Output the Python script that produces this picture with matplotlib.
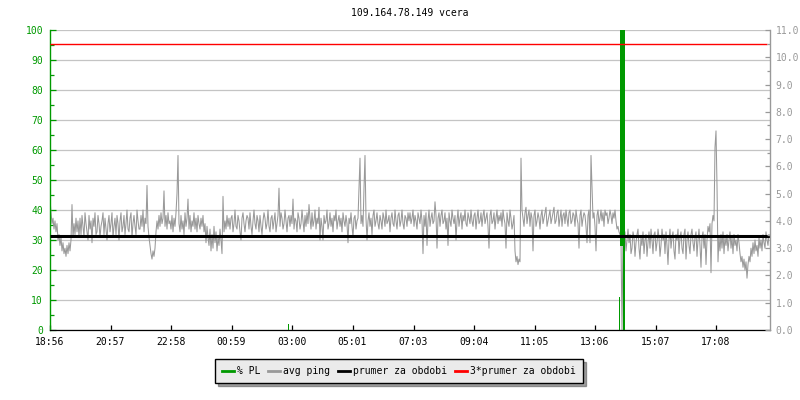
import matplotlib
matplotlib.use("Agg")
import matplotlib.pyplot as plt
from matplotlib.lines import Line2D
from matplotlib.ticker import MultipleLocator, FormatStrFormatter
import numpy as np

# ---------------- data ----------------
title = "109.164.78.149 vcera"
start_label = "18:56"
time_labels = ["18:56", "20:57", "22:58", "00:59", "03:00", "05:01",
               "07:03", "09:04", "11:05", "13:06", "15:07", "17:08"]
sample_step_min = 2          # one ping sample every 2 minutes
period_min = 1440

# avg ping [ms] (right axis), 30 samples per list
p01 = [4.8, 4.3, 3.9, 4.1, 3.7, 4.0, 3.6, 3.9, 3.3, 3.5,
       3.1, 3.4, 2.9, 3.2, 2.8, 3.0, 2.7, 3.1, 2.8, 3.2,
       2.9, 3.3, 4.6, 3.4, 3.9, 3.5, 4.1, 3.6, 4.0, 3.4]
p02 = [4.1, 3.5, 4.2, 3.8, 3.4, 4.3, 3.9, 3.6, 3.3, 4.2,
       3.7, 4.0, 3.2, 4.1, 3.8, 4.3, 3.5, 3.6, 4.2, 3.9,
       3.4, 3.8, 4.0, 4.3, 3.5, 4.1, 3.7, 3.3, 3.9, 4.2]
p03 = [3.6, 3.9, 4.3, 3.4, 3.8, 4.1, 3.5, 4.2, 3.9, 3.3,
       4.0, 4.3, 3.6, 3.8, 4.2, 3.5, 3.9, 4.4, 3.7, 3.6,
       4.1, 4.3, 3.4, 3.9, 4.2, 3.8, 3.5, 4.4, 4.0, 3.7]
p04 = [3.7, 4.2, 3.8, 4.4, 3.6, 4.1, 3.9, 5.3, 3.8, 3.4,
       3.1, 2.8, 2.6, 2.9, 2.7, 3.0, 3.6, 4.0, 3.7, 4.2,
       3.8, 4.3, 3.9, 4.1, 5.1, 3.8, 4.2, 3.7, 4.3, 3.9]
p05 = [4.0, 3.7, 4.2, 3.6, 4.1, 3.8, 4.3, 5.0, 6.4, 3.9,
       3.6, 4.2, 3.7, 4.0, 3.5, 4.3, 3.8, 4.1, 4.8, 3.7,
       4.2, 3.6, 4.0, 3.8, 4.3, 3.7, 4.1, 3.6, 4.2, 3.9]
p06 = [3.7, 4.1, 3.8, 4.2, 3.6, 3.9, 3.2, 3.8, 3.4, 3.1,
       3.7, 2.9, 3.5, 3.0, 3.8, 3.2, 3.6, 2.9, 3.4, 3.1,
       3.7, 3.3, 2.8, 4.9, 3.6, 4.0, 3.7, 4.2, 3.8, 4.1]
p07 = [3.7, 4.1, 4.2, 3.6, 3.9, 4.4, 3.8, 3.7, 4.2, 4.0,
       3.6, 3.3, 4.1, 4.3, 3.9, 3.6, 4.0, 4.2, 4.1, 3.7,
       4.3, 3.8, 3.5, 4.0, 4.4, 3.9, 3.7, 4.2, 4.0, 3.6]
p08 = [4.2, 3.8, 3.5, 4.0, 4.3, 4.1, 3.7, 3.9, 4.4, 3.8,
       3.6, 4.1, 4.2, 3.7, 4.0, 4.3, 3.6, 3.9, 4.2, 5.2,
       3.8, 4.3, 4.1, 3.7, 3.9, 4.4, 4.0, 3.6, 4.1, 4.2]
p09 = [3.8, 4.2, 3.9, 4.8, 3.7, 4.1, 4.0, 3.6, 4.3, 4.1,
       3.7, 3.9, 4.4, 4.0, 3.6, 4.2, 3.8, 4.3, 3.9, 4.6,
       4.1, 3.7, 4.3, 3.8, 4.0, 4.4, 3.7, 4.1, 3.9, 4.5]
p10 = [3.3, 4.1, 3.8, 3.3, 4.2, 3.9, 4.0, 4.4, 3.7, 3.9,
       4.3, 3.8, 4.1, 3.6, 4.2, 4.0, 4.4, 3.7, 4.0, 4.2,
       3.8, 4.1, 3.6, 4.3, 4.0, 3.8, 4.2, 3.9, 3.2, 4.1]
p11 = [3.9, 4.3, 3.8, 3.4, 4.1, 4.2, 3.7, 4.0, 4.1, 5.2,
       6.3, 3.9, 4.2, 3.8, 5.2, 6.4, 4.1, 3.3, 4.0, 4.3,
       3.8, 4.1, 3.5, 4.2, 4.4, 3.8, 4.0, 4.3, 3.9, 3.7]
p12 = [4.2, 4.0, 3.7, 4.3, 4.1, 3.8, 4.4, 3.9, 4.0, 4.2,
       3.6, 4.1, 4.3, 3.9, 3.8, 4.4, 4.0, 3.7, 4.2, 4.3,
       3.8, 4.0, 4.4, 3.9, 3.7, 4.2, 4.1, 3.8, 4.3, 4.0]
p13 = [4.3, 3.9, 4.1, 4.4, 3.8, 4.2, 4.0, 3.7, 4.3, 4.1,
       3.9, 4.4, 4.0, 2.8, 4.2, 3.8, 4.3, 3.1, 4.0, 4.4,
       3.8, 4.1, 4.3, 3.9, 4.0, 4.7, 4.2, 3.0, 4.1, 4.3]
p14 = [3.8, 4.2, 4.4, 3.9, 4.0, 4.3, 3.7, 4.1, 3.1, 4.3,
       4.0, 3.8, 4.4, 4.1, 3.9, 4.2, 3.3, 4.0, 4.4, 3.8,
       4.1, 4.3, 3.7, 4.2, 4.0, 4.4, 3.9, 3.8, 4.3, 4.1]
p15 = [3.9, 4.4, 4.0, 3.8, 4.2, 4.3, 3.7, 4.1, 4.4, 3.9,
       4.0, 4.3, 3.8, 4.2, 4.4, 3.9, 4.1, 4.3, 3.8, 3.0,
       4.2, 4.4, 3.9, 4.0, 4.3, 3.7, 4.1, 4.4, 3.9, 4.2]
p16 = [4.0, 4.3, 3.8, 4.4, 4.1, 3.9, 3.0, 4.3, 4.0, 3.8,
       4.4, 4.1, 3.7, 3.9, 4.2, 2.9, 2.5, 2.7, 2.4, 2.6,
       2.5, 6.3, 4.4, 4.1, 3.8, 4.3, 4.5, 3.9, 4.2, 4.4]
p17 = [3.8, 4.3, 4.1, 2.9, 4.2, 4.4, 3.8, 4.0, 4.3, 4.1,
       3.7, 4.2, 4.4, 3.9, 4.1, 4.3, 4.5, 3.8, 4.0, 4.2,
       4.4, 3.9, 4.1, 4.3, 4.5, 3.9, 4.0, 4.3, 4.4, 3.8]
p18 = [4.1, 4.4, 3.8, 4.2, 4.3, 3.9, 4.4, 4.1, 3.8, 4.3,
       4.4, 3.9, 4.0, 4.3, 4.2, 3.8, 4.4, 4.1, 3.9, 3.0,
       4.2, 4.4, 3.8, 4.1, 4.3, 4.2, 3.8, 3.2, 4.2, 4.4]
p19 = [3.2, 6.4, 5.2, 4.1, 4.3, 3.8, 2.9, 4.2, 4.4, 3.9,
       4.1, 4.4, 4.0, 4.3, 3.8, 4.4, 4.2, 4.3, 3.9, 4.1,
       4.4, 4.2, 3.9, 4.3, 4.1, 4.4, 4.0, 3.7, 3.8, 3.6]
p20 = [3.5, 3.3, 0.0, 3.4, 3.1, 3.6, 2.9, 3.3, 3.7, 3.2,
       3.5, 2.8, 3.0, 3.6, 3.4, 2.7, 3.2, 3.5, 3.7, 3.0,
       2.6, 3.4, 3.1, 3.6, 2.8, 3.3, 3.5, 2.7, 3.2, 3.6]
p21 = [3.0, 3.7, 3.3, 2.8, 3.5, 3.6, 2.9, 3.2, 3.7, 3.4,
       2.7, 3.1, 3.7, 3.3, 3.5, 2.8, 3.6, 3.1, 2.4, 3.3,
       3.7, 3.0, 3.4, 3.6, 2.9, 2.6, 3.5, 3.3, 3.7, 2.8]
p22 = [3.4, 3.6, 3.0, 2.8, 3.5, 3.7, 2.6, 3.3, 3.6, 3.1,
       2.8, 3.5, 3.7, 3.2, 2.9, 3.4, 3.6, 2.7, 3.3, 3.7,
       3.1, 2.3, 3.4, 3.6, 3.0, 3.5, 2.4, 3.3, 3.8, 3.6]
p23 = [3.9, 2.1, 3.9, 4.2, 4.0, 6.7, 7.3, 5.3, 2.5, 3.4,
       2.9, 3.5, 3.0, 3.6, 2.8, 3.4, 3.1, 3.5, 2.9, 3.3,
       3.6, 3.0, 3.4, 2.8, 3.5, 3.1, 3.3, 2.9, 3.5, 3.2]
p24 = [2.8, 2.5, 2.7, 2.3, 2.6, 2.2, 2.5, 1.9, 2.4, 2.7,
       2.5, 3.0, 2.7, 3.2, 2.8, 3.3, 2.9, 3.1, 2.7, 3.4,
       3.0, 3.3, 2.9, 3.5, 3.2, 3.0, 3.6, 3.3, 3.1, 3.5]

# packet loss [%] (left axis): minute, width (min), base %, top %
pl_minute = [0.8, 477, 532, 1026, 1138.6, 1142.5, 1147.8, 1152, 1334]
pl_width = [1.6, 1.6, 1.6, 1.6, 1.6, 5.0, 5.6, 1.6, 1.6]
pl_base = [0, 0, 0, 0, 0, 28, 0, 0, 0]
pl_top = [1.5, 2, 2, 2, 11, 100, 100, 3, 2]

mean_ping = 3.46        # prumer za obdobi [ms]
mean3_ping = 10.49      # 3*prumer za obdobi [ms]

# ---------------- style ----------------
GREEN = "#009900"
GRAY = "#999999"
GRID = "#c4c4c4"
plt.rcParams["font.family"] = ["DejaVu Sans Mono", "DejaVu Sans"]
FS = 7

ping = (p01 + p02 + p03 + p04 + p05 + p06 + p07 + p08 + p09 + p10 + p11 + p12 +
        p13 + p14 + p15 + p16 + p17 + p18 + p19 + p20 + p21 + p22 + p23 + p24)
x_ping = np.arange(len(ping)) * sample_step_min


def to_min(lbl):
    h, m = map(int, lbl.split(":"))
    sh, sm = map(int, start_label.split(":"))
    return ((h * 60 + m) - (sh * 60 + sm)) % period_min


tick_pos = [to_min(t) for t in time_labels]

fig = plt.figure(figsize=(8, 4), dpi=100)
ax = fig.add_axes([50 / 800, 70 / 400, 720 / 800, 300 / 400])
ax2 = ax.twinx()

ax.set_xlim(0, period_min)
ax.set_ylim(0, 100)
ax2.set_ylim(0, 11)

# grid (left scale)
ax.set_axisbelow(True)
ax.yaxis.grid(True, which="major", color=GRID, lw=0.9)

# ping line (right scale) drawn in the main axes
ax.plot(x_ping, ping, color=GRAY, lw=0.75, transform=ax2.transData, zorder=2)

# packet loss bars
heights = [t - b for t, b in zip(pl_top, pl_base)]
ax.bar(pl_minute, heights, width=pl_width, bottom=pl_base, color=GREEN,
       linewidth=0, zorder=3)

# mean lines
ax.plot([0, period_min], [mean_ping, mean_ping], color="black", lw=2.2,
        transform=ax2.transData, zorder=4, solid_capstyle="butt")
ax.plot([0, period_min - 6], [mean3_ping, mean3_ping], color="red", lw=1.0,
        transform=ax2.transData, zorder=5, solid_capstyle="butt")

# spines
for s in ["top", "right"]:
    ax.spines[s].set_visible(False)
ax.spines["left"].set_color(GREEN)
ax.spines["left"].set_linewidth(1.0)
ax.spines["bottom"].set_color("black")
ax.spines["bottom"].set_linewidth(0.9)
for s in ["top", "left", "bottom"]:
    ax2.spines[s].set_visible(False)
ax2.spines["right"].set_color(GRAY)
ax2.spines["right"].set_linewidth(1.0)

# left ticks
ax.yaxis.set_major_locator(MultipleLocator(10))
ax.yaxis.set_minor_locator(MultipleLocator(5))
ax.tick_params(axis="y", which="major", direction="in", length=4.3, width=0.9,
               color=GREEN, labelcolor=GREEN, labelsize=FS, pad=5)
ax.tick_params(axis="y", which="minor", direction="in", length=2.9, width=0.9,
               color=GREEN)

# bottom ticks
ax.set_xticks(tick_pos)
ax.set_xticklabels(time_labels)
ax.tick_params(axis="x", which="major", direction="in", length=3.6, width=0.9,
               color="black", labelcolor="black", labelsize=FS, pad=5)

# right ticks
ax2.yaxis.set_major_locator(MultipleLocator(1))
ax2.yaxis.set_minor_locator(MultipleLocator(0.5))
ax2.yaxis.set_major_formatter(FormatStrFormatter("%.1f"))
ax2.tick_params(axis="y", which="major", direction="in", length=3.6, width=0.9,
                color=GRAY, labelcolor=GRAY, labelsize=FS, pad=4)
ax2.tick_params(axis="y", which="minor", direction="in", length=2.5, width=0.9,
                color=GRAY)

fig.text(410 / 800, 1 - 13 / 400, title, ha="center", va="center",
         fontsize=FS, color="black")

handles = [Line2D([0], [0], color=GREEN, lw=2),
           Line2D([0], [0], color=GRAY, lw=2),
           Line2D([0], [0], color="black", lw=2),
           Line2D([0], [0], color="red", lw=2)]
labels = ["% PL", "avg ping", "prumer za obdobi", "3*prumer za obdobi"]
leg = fig.legend(handles, labels, loc="center", bbox_to_anchor=(399 / 800, 1 - 371 / 400),
                 ncol=4, fontsize=FS, frameon=True, fancybox=False, shadow=True,
                 handlelength=1.2, handletextpad=0.35, columnspacing=0.8,
                 borderpad=0.7, borderaxespad=0)
leg.get_frame().set_facecolor("#ebebeb")
leg.get_frame().set_edgecolor("black")
leg.get_frame().set_linewidth(1.0)
leg.get_frame().set_alpha(1)

fig.savefig("out.png", dpi=100)
